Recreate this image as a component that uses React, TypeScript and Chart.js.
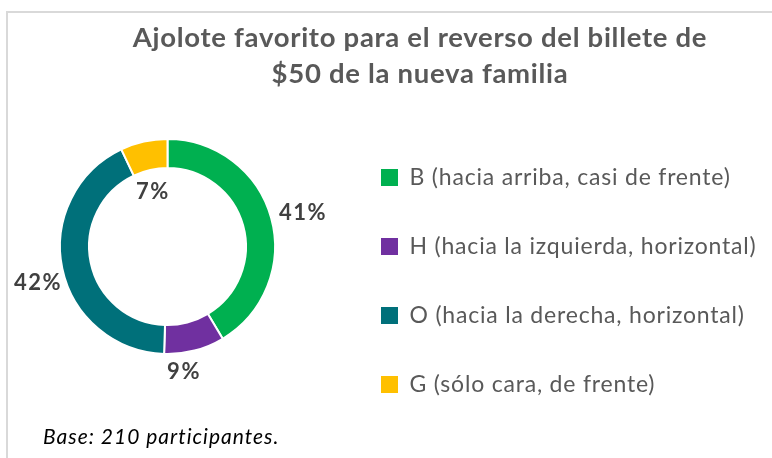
import { useEffect, useRef } from 'react';
import { Chart, registerables } from 'chart.js';

Chart.register(...registerables);

const categories = [
  'B (hacia arriba, casi de frente)',
  'H (hacia la izquierda, horizontal)',
  'O (hacia la derecha, horizontal)',
  'G (sólo cara, de frente)',
];
const shares = [41, 9, 42, 7];
const sliceColors = ['#00B050', '#7030A0', '#00707A', '#FFC000'];
const titleLines = ['Ajolote favorito para el reverso del billete de', '$50 de la nueva familia'];
const footnote = 'Base: 210 participantes.';

const FONT = 'Lato, "Open Sans", sans-serif';

// label placement relative to each slice (style only)
const labelPlacement = [
  { inside: false, gap: 31, turn: 1.5 },
  { inside: false, gap: 19, turn: 7.5 },
  { inside: false, gap: 28, turn: -3.8 },
  { inside: true, gap: -22, turn: -3.2 },
];

const framePlugin = {
  id: 'frame',
  afterLayout(chart: any) {
    const lg = chart.legend;
    if (lg) {
      lg.right = chart.width;
      lg.width = lg.right - lg.left;
    }
  },
  beforeDraw(chart: any) {
    const { ctx, width, height } = chart;
    ctx.save();
    ctx.fillStyle = '#ffffff';
    ctx.fillRect(0, 0, width, height);
    ctx.strokeStyle = '#d9d9d9';
    ctx.lineWidth = 2;
    ctx.beginPath();
    ctx.moveTo(7, height);
    ctx.lineTo(7, 12);
    ctx.lineTo(width, 12);
    ctx.stroke();
    ctx.restore();
    ctx.letterSpacing = '0.8px';
  },
  afterDraw(chart: any) {
    const { ctx } = chart;
    ctx.save();
    ctx.fillStyle = '#595959';
    ctx.font = `bold 27.5px ${FONT}`;
    ctx.letterSpacing = '0.7px';
    ctx.textAlign = 'center';
    ctx.textBaseline = 'alphabetic';
    titleLines.forEach((line, i) => ctx.fillText(line, 420, 47 + i * 36));
    ctx.fillStyle = '#000000';
    ctx.font = `italic 21px ${FONT}`;
    ctx.letterSpacing = '1px';
    ctx.textAlign = 'left';
    ctx.fillText(footnote, 43, 444);
    ctx.restore();
    ctx.letterSpacing = '0px';
  },
};

const sliceLabelPlugin = {
  id: 'sliceLabels',
  afterDatasetsDraw(chart: any) {
    const meta = chart.getDatasetMeta(0);
    const ctx = chart.ctx;
    ctx.save();
    ctx.font = `bold 22px ${FONT}`;
    ctx.letterSpacing = '1.5px';
    ctx.fillStyle = '#404040';
    ctx.textAlign = 'center';
    ctx.textBaseline = 'middle';
    meta.data.forEach((arc: any, i: number) => {
      const { x, y, startAngle, endAngle, outerRadius, innerRadius } = arc.getProps(
        ['x', 'y', 'startAngle', 'endAngle', 'outerRadius', 'innerRadius'],
        true
      );
      const p = labelPlacement[i];
      const a = (startAngle + endAngle) / 2 + (p.turn * Math.PI) / 180;
      const r = (p.inside ? innerRadius : outerRadius) + p.gap;
      ctx.fillText(`${shares[i]}%`, x + Math.cos(a) * r + 1, y + Math.sin(a) * r);
    });
    ctx.restore();
  },
};

export default function App() {
  const ref = useRef<HTMLCanvasElement | null>(null);

  useEffect(() => {
    if (!ref.current) return;
    const baseGen = (Chart as any).overrides.doughnut.plugins.legend.labels.generateLabels;
    const chart = new Chart(ref.current, {
      type: 'doughnut',
      data: {
        labels: categories,
        datasets: [
          {
            data: shares,
            backgroundColor: sliceColors,
            borderColor: '#ffffff',
            borderWidth: 2,
          },
        ],
      },
      options: {
        responsive: false,
        animation: false,
        devicePixelRatio: 1,
        radius: 107.5,
        cutout: '73%',
        layout: { padding: { left: 0, right: 102, top: 51, bottom: 16 } },
        plugins: {
          title: { display: false },
          tooltip: { enabled: false },
          legend: {
            position: 'right',
            align: 'end',
            maxWidth: 335,
            labels: {
              boxWidth: 17,
              boxHeight: 17,
              padding: 46,
              color: '#595959',
              font: { family: FONT, size: 23 },
              generateLabels: (c: any) =>
                baseGen(c).map((l: any) => ({ ...l, lineWidth: 0, strokeStyle: l.fillStyle })),
            },
          },
        },
      } as any,
      plugins: [framePlugin, sliceLabelPlugin],
    });
    return () => chart.destroy();
  }, []);

  return (
    <div style={{ position: 'absolute', left: 0, top: 0, width: 772, height: 458 }}>
      <canvas ref={ref} width={772} height={458} style={{ display: 'block' }} />
    </div>
  );
}
